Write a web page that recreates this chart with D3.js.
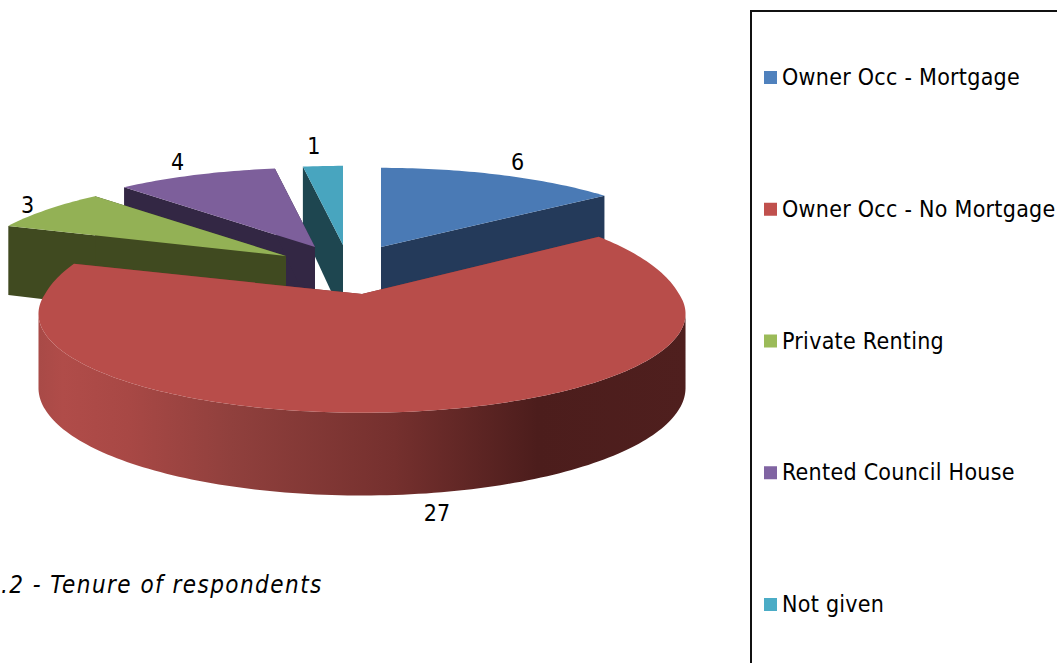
<!DOCTYPE html>
<html>
<head>
<meta charset="utf-8">
<style>
	html, body { margin: 0; padding: 0; background: #fff; overflow: hidden; }
	text { font-family: 'DejaVu Sans Condensed', 'DejaVu Sans', sans-serif; fill: #000; }
</style>
<script src="https://d3js.org/d3.v7.min.js"></script>
</head>
<body>
<script>
const categories = ['Owner Occ - Mortgage', 'Owner Occ - No Mortgage', 'Private Renting', 'Rented Council House', 'Not given'];
const values = [6, 27, 3, 4, 1];
const topColors = ['#4a7ab5', '#b84d4a', '#93b155', '#7d5f9b', '#48a5bf'];
const wallColors = ['#243a5a', '#7a3230', '#404a20', '#332744', '#1e4650'];
const legendColors = ['#4f81bd', '#c0504d', '#9bbb59', '#8064a2', '#4bacc6'];
const caption = '.2 - Tenure of respondents';

// how far each slice was pulled out of the pie, in pixels
const explodeX = [19, 0, -76, -47, -19];
const explodeY = [-47, 0, -38, -47, -49];
const labelNudgeX = [18, 15, -20, -19, -9];
const labelNudgeY = [-13, 19, -5, -13, -20];
// the big slice sits nearer the eye, its back edge looks fuller than the others
const radiusX = [315, 317, 315, 315, 315];
const backLift = [1, 1.2, 1, 1, 1];
const rimTrim = [0, 0.06, 0, 0, 0];
// back slices get painted first, the red one sits in front
const paintOrder = [4, 3, 2, 0, 1];

let svgWidth = 1057, svgHeight = 663;
let cx = 362, cy = 294;
let ry = 95, persp = 0.2, depth = 72;
let fontSize = 23;

let svg = d3.select('body').append('svg')
	.attr('width', svgWidth)
	.attr('height', svgHeight);

let defs = svg.append('defs');
let grad = defs.append('linearGradient')
	.attr('id', 'redWall')
	.attr('gradientUnits', 'userSpaceOnUse')
	.attr('x1', 37 - cx).attr('y1', 0)
	.attr('x2', 687 - cx).attr('y2', 0);
[[0, '#a84a47'], [0.04, '#b04c49'], [0.14, '#a84845'], [0.3, '#90403d'], [0.55, '#75302e'], [0.77, '#4c1d1c'], [1, '#4f1f1e']].forEach(d => {
	grad.append('stop').attr('offset', d[0]).attr('stop-color', d[1]);
});

let pie = d3.pie().sort(null).value(d => d);
let slices = pie(values);

// disc angle -> screen, with the far side of the disc shrunk a little
function project(a, r, drop, i) {
	let u = Math.sin(a) * r, v = Math.cos(a) * r;
	let s = 1 / (1 + persp * v);
	let h = drop ? depth / (1 + 0.13 * v) : 0;
	let k = v > 0 ? backLift[i] : 1;
	return [radiusX[i] * u * s, -ry * v * s * k + h];
}

function rimAngles(d, i) {
	let a0 = d.startAngle + rimTrim[i], a1 = d.endAngle - rimTrim[i];
	let n = Math.max(2, Math.ceil((a1 - a0) / 0.02));
	return d3.range(n + 1).map(j => a0 + (a1 - a0) * j / n);
}

let line = d3.line();

let body = svg.append('g').classed('body', true)
	.attr('transform', `translate(${cx}, ${cy})`);

paintOrder.forEach(i => {
	let d = slices[i];
	let g = body.append('g')
		.attr('class', 'slice')
		.attr('transform', `translate(${explodeX[i]}, ${explodeY[i]})`);
	let angles = rimAngles(d, i);
	let top = angles.map(a => project(a, 1, false, i));
	let low = angles.map(a => project(a, 1, true, i));
	let hub = project(0, 0, false, i), hubLow = project(0, 0, true, i);

	[[top[0], low[0]], [top[top.length - 1], low[low.length - 1]]].forEach(e => {
		g.append('path')
			.attr('d', line([hub, e[0], e[1], hubLow]) + 'Z')
			.attr('fill', wallColors[i]);
	});

	// outer wall, only the part of the rim that faces us (past the widest point of the ellipse)
	let front = angles.filter(a => Math.cos(a) < -persp);
	if (front.length > 1) {
		let frontTop = front.map(a => project(a, 1, false, i));
		let frontLow = front.map(a => project(a, 1, true, i));
		g.append('path')
			.attr('d', line(frontTop.concat(frontLow.reverse())) + 'Z')
			.attr('fill', i === 1 ? 'url(#redWall)' : wallColors[i]);
	}

	g.append('path')
		.attr('d', line([hub].concat(top)) + 'Z')
		.attr('fill', topColors[i]);
});

slices.forEach((d, i) => {
	let mid = (d.startAngle + d.endAngle) / 2;
	let p = project(mid, 1, Math.cos(mid) < 0, 0);
	svg.append('text')
		.attr('x', cx + explodeX[i] + p[0] + labelNudgeX[i])
		.attr('y', cy + explodeY[i] + p[1] + labelNudgeY[i] + fontSize * 0.36)
		.attr('text-anchor', 'middle')
		.attr('font-size', fontSize)
		.text(values[i]);
});

// legend box runs off the page on two sides
svg.append('path')
	.attr('d', `M751,${svgHeight + 5}V11H${svgWidth + 5}`)
	.attr('fill', 'none')
	.attr('stroke', '#111')
	.attr('stroke-width', 2);

let legendY = d3.scalePoint()
	.domain(categories)
	.range([77, 604]);

let legend = svg.selectAll('.legend')
	.data(categories)
	.enter()
	.append('g')
	.attr('class', 'legend')
	.attr('transform', d => `translate(764, ${legendY(d)})`);

legend.append('rect')
	.attr('x', 0).attr('y', -6)
	.attr('width', 13).attr('height', 13)
	.attr('fill', (d, i) => legendColors[i]);

legend.append('text')
	.attr('x', 18)
	.attr('y', 8)
	.attr('font-size', fontSize)
	.attr('letter-spacing', 0.27)
	.text(d => d);

svg.append('text')
	.attr('x', 1)
	.attr('y', 593)
	.attr('font-size', 24)
	.attr('font-style', 'italic')
	.attr('letter-spacing', 1.45)
	.text(caption);
</script>
</body>
</html>
